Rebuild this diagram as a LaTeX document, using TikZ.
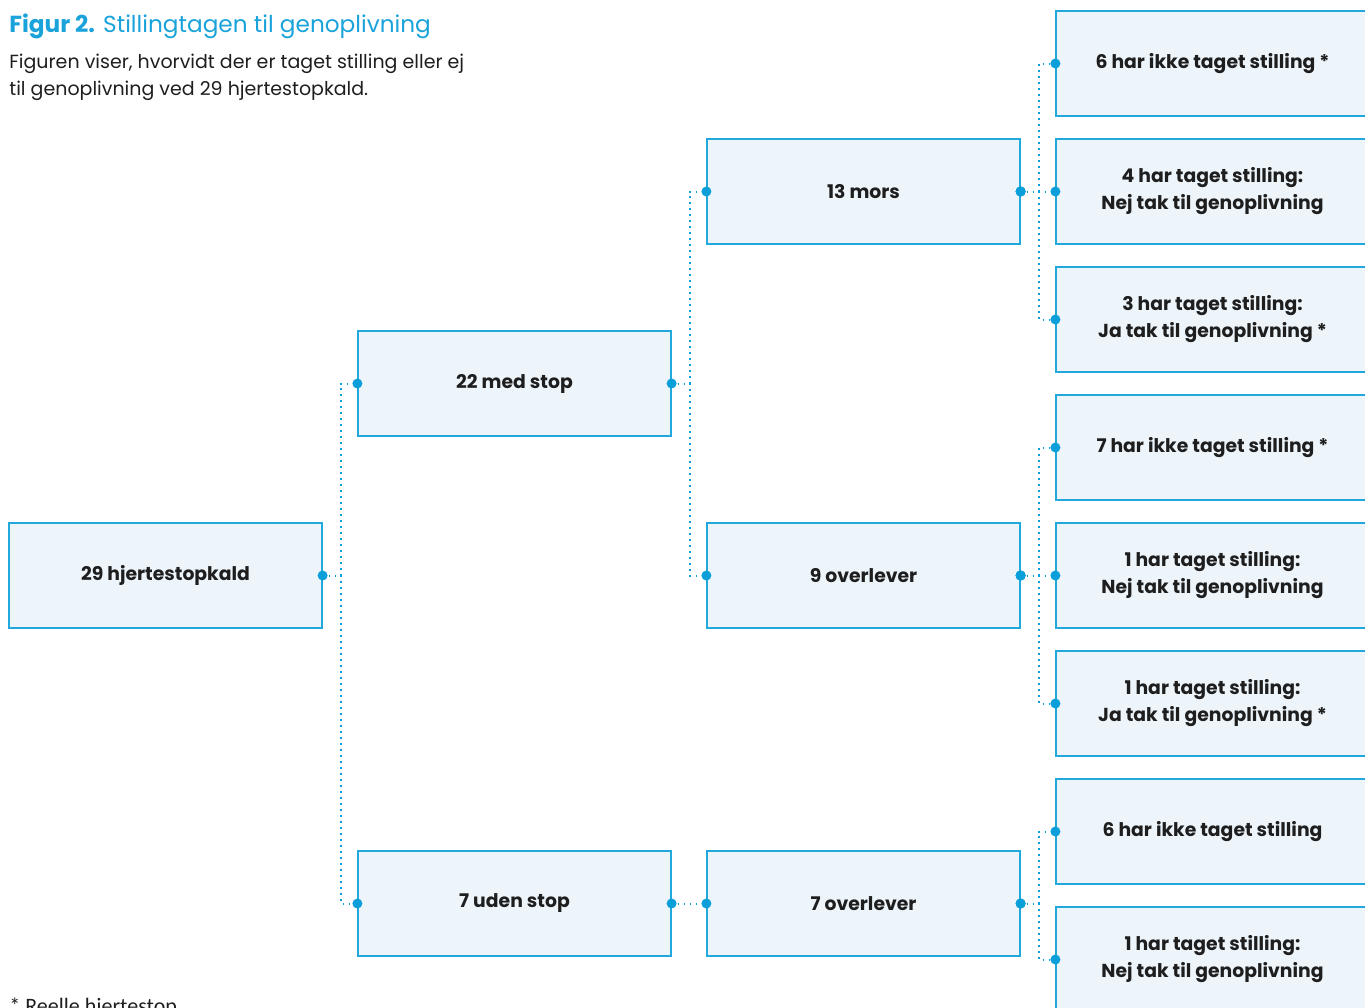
\documentclass[tikz,border=0pt]{standalone}
\usepackage{fontspec}
\setmainfont{Poppins}
\newfontfamily\notefont{Carlito}
\usetikzlibrary{positioning}
\definecolor{figblue}{HTML}{1AA3DA}
\definecolor{dotblue}{HTML}{0A9FD8}
\definecolor{boxfill}{HTML}{EDF5FB}
\definecolor{boxline}{HTML}{22A9DC}
\definecolor{inkdark}{HTML}{1E1E1E}

\begin{document}
\begin{tikzpicture}[x=0.5pt, y=-0.5pt, node distance=174.5pt]
        \tikzstyle{box} = [rectangle, minimum width=156.5pt, minimum height=52.5pt, text centered, align=center, draw=boxline, fill=boxfill, line width=0.6pt, text=inkdark, font=\bfseries\fontsize{9.4}{13.5}\selectfont]
        \tikzstyle{link} = [dotblue, line width=1pt, dash pattern=on 0.9pt off 2.1pt]
        \tikzstyle{dot} = [circle, fill=dotblue, inner sep=0pt, minimum size=5pt]

        \useasboundingbox (0,0) rectangle (1365,1007);

        \node (title) [anchor=base west, inner sep=0pt, text=figblue, font=\fontsize{11.6}{14}\selectfont] at (9,32) {\textbf{Figur 2.} Stillingtagen til genoplivning};
        \node (intro) [anchor=north west, inner sep=0pt, align=left, text=inkdark, font=\fontsize{9.5}{13.5}\selectfont] at (9,54) {Figuren viser, hvorvidt der er taget stilling eller ej\\til genoplivning ved 29 hjertestopkald.};
        \node (note) [anchor=base west, inner sep=0pt, text=inkdark, font=\notefont\fontsize{11}{13}\selectfont] at (9,1013) {* Reelle hjertestop};

        \node (calls) [box] at (165.5,575.5) {29 hjertestopkald};
        \node (withstop) [box, right of=calls, yshift=96pt] {22 med stop};
        \node (nostop) [box, right of=calls, yshift=-164pt] {7 uden stop};
        \node (died) [box, right of=withstop, yshift=96pt] {13 mors};
        \node (alive) [box, right of=withstop, yshift=-96pt] {9 overlever};
        \node (alivenostop) [box, right of=nostop] {7 overlever};

        \node (diedA) [box, right of=died, yshift=64pt] {6 har ikke taget stilling *};
        \node (diedB) [box, right of=died] {4 har taget stilling:\\Nej tak til genoplivning};
        \node (diedC) [box, right of=died, yshift=-64pt] {3 har taget stilling:\\Ja tak til genoplivning *};
        \node (aliveA) [box, right of=alive, yshift=64pt] {7 har ikke taget stilling *};
        \node (aliveB) [box, right of=alive] {1 har taget stilling:\\Nej tak til genoplivning};
        \node (aliveC) [box, right of=alive, yshift=-64pt] {1 har taget stilling:\\Ja tak til genoplivning *};
        \node (nostopA) [box, right of=alivenostop, yshift=36pt] {6 har ikke taget stilling};
        \node (nostopB) [box, right of=alivenostop, yshift=-28pt] {1 har taget stilling:\\Nej tak til genoplivning};

        \draw [link] (calls.east) node[dot] {} -- ++(18.5,0) |- (withstop.west) node[dot] {};
        \draw [link] (calls.east) -- ++(18.5,0) |- (nostop.west) node[dot] {};
        \draw [link] (withstop.east) node[dot] {} -- ++(18.5,0) |- (died.west) node[dot] {};
        \draw [link] (withstop.east) -- ++(18.5,0) |- (alive.west) node[dot] {};
        \draw [link] (nostop.east) node[dot] {} -- (alivenostop.west) node[dot] {};
        \foreach \kid in {diedA, diedB, diedC}
            \draw [link] (died.east) node[dot] {} -- ++(18.5,0) |- (\kid.west) node[dot] {};
        \foreach \kid in {aliveA, aliveB, aliveC}
            \draw [link] (alive.east) node[dot] {} -- ++(18.5,0) |- (\kid.west) node[dot] {};
        \foreach \kid in {nostopA, nostopB}
            \draw [link] (alivenostop.east) node[dot] {} -- ++(18.5,0) |- (\kid.west) node[dot] {};
    \end{tikzpicture}
\end{document}
